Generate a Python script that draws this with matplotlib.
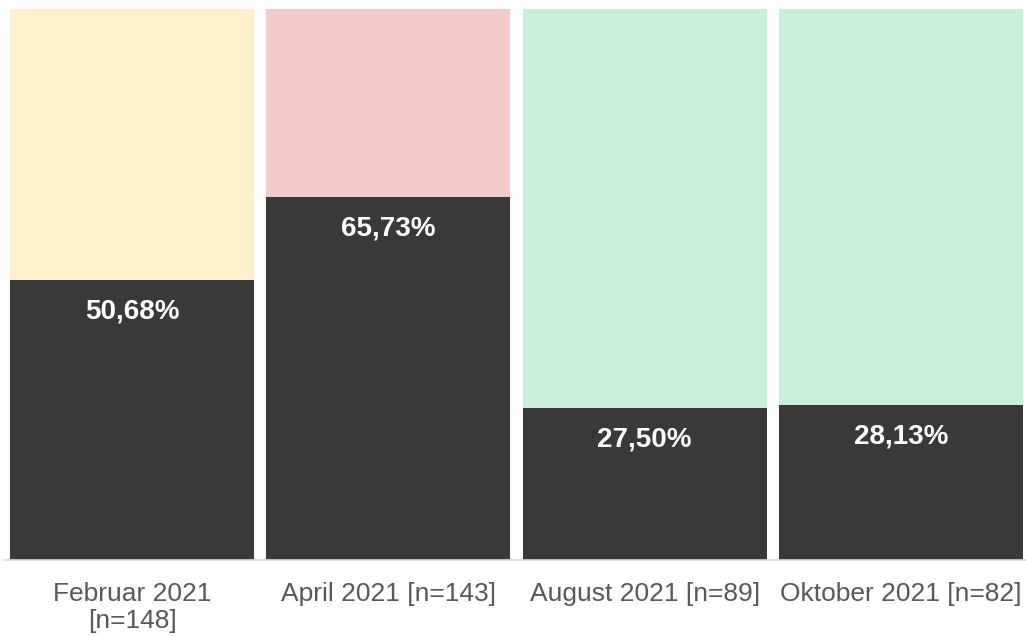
import matplotlib
matplotlib.use("Agg")
import matplotlib.pyplot as plt
import numpy as np

categories = ["Februar 2021\n[n=148]", "April 2021 [n=143]", "August 2021 [n=89]", "Oktober 2021 [n=82]"]
values = [50.68, 65.73, 27.50, 28.13]
value_labels = ["50,68%", "65,73%", "27,50%", "28,13%"]
top_colors = ["#FFF0CD", "#F2CACB", "#CBEEDB", "#CBEEDB"]
dark = "#3A3937"

plt.rcParams['font.family'] = ['Liberation Sans', 'Arial', 'DejaVu Sans']

fig = plt.figure(figsize=(10.26, 6.37), dpi=100)
ax = fig.add_axes([4/1026, (637-560)/637, 1022/1026, (560-8.5)/637])

x = np.arange(len(categories))
rest = [100 - v for v in values]
ax.bar(x, values, width=0.952, color=dark, zorder=2)
ax.bar(x, rest, bottom=values, width=0.952, color=top_colors, zorder=2)

for xi, v, lab in zip(x, values, value_labels):
    ax.annotate(lab, (xi, v), xytext=(0, -22.5), textcoords="offset points",
                ha="center", va="center", color="white", fontsize=20, fontweight="bold")

ax.set_xlim(-0.5, len(categories) - 0.5 - 0.012)
ax.set_ylim(0, 100)
ax.set_xticks(x)
ax.set_xticklabels(categories, fontsize=19, color="#595959", linespacing=1.12)
ax.tick_params(axis="x", length=0, pad=16)
ax.set_yticks([])
for s in ["top", "right", "left"]:
    ax.spines[s].set_visible(False)
ax.spines["bottom"].set_color("#D9D9D9")
ax.spines["bottom"].set_linewidth(1.2)

fig.savefig("out.png", dpi=100)
